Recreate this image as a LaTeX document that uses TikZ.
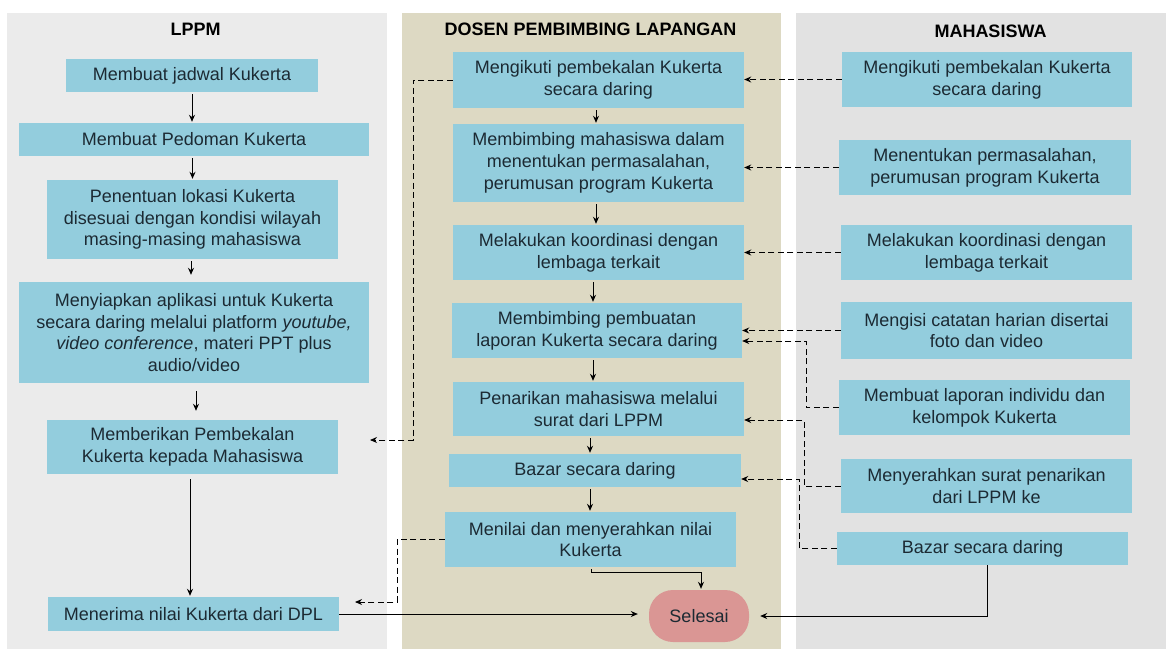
\documentclass[tikz,border=0pt]{standalone}
\usepackage{fontspec}
\setmainfont{Liberation Sans}
\usetikzlibrary{arrows.meta}
\definecolor{boxblue}{HTML}{93CDDD}
\definecolor{lppmbg}{HTML}{EBEBEB}
\definecolor{dplbg}{HTML}{DDD9C3}
\definecolor{mhsbg}{HTML}{E2E2E2}
\definecolor{endpink}{HTML}{DA9694}
\definecolor{txt}{HTML}{1C2A33}
\begin{document}
\begin{tikzpicture}[x=1pt,y=-1pt,
  box/.style={fill=boxblue, inner sep=0pt, align=center, text=txt, font=\fontsize{18}{21.7}\selectfont},
  head/.style={font=\bfseries\fontsize{18}{21.7}\selectfont, text=black},
  arr/.style={-{Stealth[length=7pt,width=6pt]}, line width=1pt, shorten <=2pt, shorten >=1pt},
  darr/.style={-{Stealth[length=7pt,width=6pt]}, line width=0.9pt, dash pattern=on 6pt off 3.5pt},
  dline/.style={line width=0.9pt, dash pattern=on 6pt off 3.5pt},
]
\useasboundingbox (0,0) rectangle (1166,649);
\fill[white] (0,0) rectangle (1166,649);
% panels
\fill[lppmbg] (7,13) rectangle (387,649);
\fill[dplbg] (402,13) rectangle (781,649);
\fill[mhsbg] (796,13) rectangle (1166,649);
% headers
\node[head] (hl) at (195.5,29) {LPPM};
\node[head] (hd) at (590.5,29.5) {DOSEN PEMBIMBING LAPANGAN};
\node[head] (hm) at (990.5,31) {MAHASISWA};
% LPPM
\node[box, minimum width=252pt, minimum height=33pt] (l1) at (192,75.5) {Membuat jadwal Kukerta};
\node[box, minimum width=350pt, minimum height=33pt] (l2) at (194,139.5) {Membuat Pedoman Kukerta};
\node[box, minimum width=291pt, minimum height=79pt] (l3) at (192.5,219.5) {Penentuan lokasi Kukerta\\disesuai dengan kondisi wilayah\\masing-masing mahasiswa};
\node[box, minimum width=350pt, minimum height=101pt] (l4) at (194,332.5) {Menyiapkan aplikasi untuk Kukerta\\secara daring melalui platform \textit{youtube,}\\\textit{video conference}, materi PPT plus\\audio/video};
\node[box, minimum width=291pt, minimum height=54pt] (l5) at (192.5,447) {Memberikan Pembekalan\\Kukerta kepada Mahasiswa};
\node[box, minimum width=291pt, minimum height=34pt] (l6) at (193.5,614) {Menerima nilai Kukerta dari DPL};
% DPL
\node[box, minimum width=291pt, minimum height=56pt] (d1) at (598.5,80) {Mengikuti pembekalan Kukerta\\secara daring};
\node[box, minimum width=291pt, minimum height=78pt] (d2) at (598.5,163) {Membimbing mahasiswa dalam\\menentukan permasalahan,\\perumusan program Kukerta};
\node[box, minimum width=291pt, minimum height=55pt] (d3) at (598.5,252.5) {Melakukan koordinasi dengan\\lembaga terkait};
\node[box, minimum width=290pt, minimum height=55pt] (d4) at (597,330.5) {Membimbing pembuatan\\laporan Kukerta secara daring};
\node[box, minimum width=291pt, minimum height=54pt] (d5) at (598.5,409) {Penarikan mahasiswa melalui\\surat dari LPPM};
\node[box, minimum width=292pt, minimum height=33pt] (d6) at (595,470.5) {Bazar secara daring};
\node[box, minimum width=291pt, minimum height=55pt] (d7) at (590.5,539.5) {Menilai dan menyerahkan nilai\\Kukerta};
\node[fill=endpink, rounded corners=24pt, minimum width=100pt, minimum height=52pt, inner sep=0pt, text=txt, font=\fontsize{18}{21.7}\selectfont] (sel) at (699,616) {Selesai};
% MAHASISWA
\node[box, minimum width=290pt, minimum height=55pt] (m1) at (987,79.5) {Mengikuti pembekalan Kukerta\\secara daring};
\node[box, minimum width=292pt, minimum height=55pt] (m2) at (985,167.5) {Menentukan permasalahan,\\perumusan program Kukerta};
\node[box, minimum width=291pt, minimum height=55pt] (m3) at (986.5,252.5) {Melakukan koordinasi dengan\\lembaga terkait};
\node[box, minimum width=291pt, minimum height=57pt] (m4) at (986.5,330.5) {Mengisi catatan harian disertai\\foto dan video};
\node[box, minimum width=291pt, minimum height=55pt] (m5) at (984.5,407.5) {Membuat laporan individu dan\\kelompok Kukerta};
\node[box, minimum width=291pt, minimum height=54pt] (m6) at (986.5,486) {Menyerahkan surat penarikan\\dari LPPM ke};
\node[box, minimum width=291pt, minimum height=33pt] (m7) at (982.5,548.5) {Bazar secara daring};
% LPPM flow
\draw[arr] (l1.south -| 192,0) -- (l2.north -| 192,0);
\draw[arr] (l2.south -| 192.5,0) -- (l3.north -| 192.5,0);
\draw[arr, shorten >=7pt] (l3.south -| 191,0) -- (l4.north -| 191,0);
\draw[arr, shorten <=8pt, shorten >=9pt] (l4.south -| 196,0) -- (l5.north -| 196,0);
\draw[arr, shorten <=5pt] (l5.south -| 190,0) -- (l6.north -| 190,0);
% DPL flow
\draw[arr] (d1.south -| 596,0) -- (d2.north -| 596,0);
\draw[arr] (d2.south -| 596,0) -- (d3.north -| 596,0);
\draw[arr] (d3.south -| 593,0) -- (d4.north -| 593,0);
\draw[arr] (d4.south -| 593,0) -- (d5.north -| 593,0);
\draw[arr] (d5.south -| 590,0) -- (d6.north -| 590,0);
\draw[arr] (d6.south -| 590,0) -- (d7.north -| 590,0);
\draw[arr] (d7.south -| 591,0) -- ++(0,5) -| (sel.north -| 701,0);
% to Selesai
\draw[arr, shorten <=0pt, shorten >=11pt] (l6.east) -- (l6.east -| sel.west);
\draw[arr, shorten <=0pt, shorten >=11pt] (m7.south -| 987,0) |- (sel.east);
% MAHASISWA -> DPL
\draw[darr] (m1.west) -- (m1.west -| d1.east);
\draw[darr] (m2.west) -- (m2.west -| d2.east);
\draw[darr] (m3.west) -- (m3.west -| d3.east);
\draw[darr] (m4.west) -- (m4.west -| d4.east);
\coordinate (c5) at (806,341);
\draw[darr] (m5.west) -| (c5) -- (c5 -| d4.east);
\coordinate (c6) at (804,420);
\draw[darr] (m6.west) -| (c6) -- (c6 -| d5.east);
\coordinate (c7) at (799,479);
\draw[darr] (m7.west) -| (c7) -- (c7 -| d6.east);
% DPL -> LPPM
\coordinate (c8) at (413,440);
\coordinate (t8) at (370,440);
\draw[darr] (d1.west) -| (c8) -- (t8);
\coordinate (c9) at (397,602);
\coordinate (t9) at (355,602);
\draw[darr] (d7.west) -| (c9) -- (t9);
\end{tikzpicture}
\end{document}
